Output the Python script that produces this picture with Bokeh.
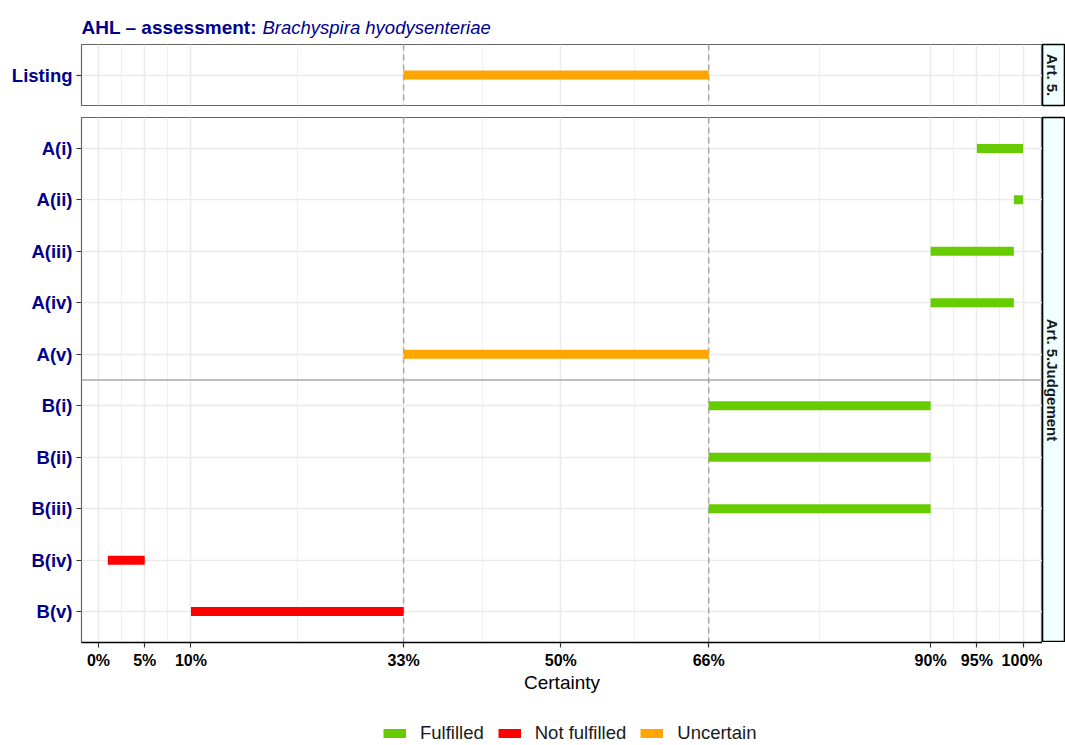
import math
from bokeh.plotting import figure
from bokeh.models import (FactorRange, Range1d, FixedTicker, PrintfTickFormatter, Span,
                          Legend, LegendItem, ColumnDataSource, Grid)
from bokeh.layouts import column, row
from bokeh.embed import file_html
from bokeh.resources import INLINE
from bokeh.core.properties import value

# ---------------- data ----------------
title_bold = "AHL – assessment: "
title_italic = "Brachyspira hyodysenteriae"

listing_criteria = ["Listing"]
listing_lower = [33]
listing_upper = [66]
listing_status = ["Uncertain"]

judgement_criteria = ["A(i)", "A(ii)", "A(iii)", "A(iv)", "A(v)",
                      "B(i)", "B(ii)", "B(iii)", "B(iv)", "B(v)"]
judgement_lower = [95, 99, 90, 90, 33, 66, 66, 66, 1, 10]
judgement_upper = [100, 100, 99, 99, 66, 90, 90, 90, 5, 33]
judgement_status = ["Fulfilled", "Fulfilled", "Fulfilled", "Fulfilled", "Uncertain",
                    "Fulfilled", "Fulfilled", "Fulfilled", "Not fulfilled", "Not fulfilled"]

status_levels = ["Fulfilled", "Not fulfilled", "Uncertain"]
status_colors = ["#66CC00", "#FF0000", "#FFA500"]

x_ticks = [0, 5, 10, 33, 50, 66, 90, 95, 100]
x_minor = [2.5, 7.5, 21.5, 41.5, 58, 78, 92.5, 97.5]
threshold_lines = [33, 66]
group_separator = 5  # between A(v) and B(i)
strip_labels = ["Art. 5.", "Art. 5.Judgement"]
x_label = "Certainty"

# ---------------- layout constants ----------------
FONT = "Liberation Sans"
NAVY = "#00008B"
LEFT = 81
FW = 961
SW = 23
X_START, X_END = -1.84, 102.1
TH = 42          # title strip height
BOT_BORDER = 58  # room for x axis below bottom panel
LH = 745 - TH - (2 + 61 + 2) - (10 + 525 + BOT_BORDER)


def rows_of(crit, lo, up, st, status):
    idx = [i for i in range(len(crit)) if st[i] == status]
    return ColumnDataSource(dict(y=[crit[i] for i in idx],
                                 x0=[lo[i] for i in idx],
                                 x1=[up[i] for i in idx])), len(idx)


def style_panel(p):
    p.background_fill_color = "white"
    p.border_fill_color = "white"
    p.outline_line_color = "#666666"
    p.outline_line_width = 1.2
    p.ygrid.grid_line_color = "#EBEBEB"
    p.ygrid.grid_line_width = 1.6
    ticker = FixedTicker(ticks=x_ticks, minor_ticks=x_minor)
    if len(p.xgrid) == 0:
        p.add_layout(Grid(dimension=0, ticker=ticker))
    else:
        p.xgrid.ticker = ticker
    p.xgrid.grid_line_color = "#EBEBEB"
    p.xgrid.grid_line_width = 1.6
    p.xgrid.minor_grid_line_color = "#F0F0F0"
    p.xgrid.minor_grid_line_width = 1.0
    ya = p.yaxis
    ya.axis_line_color = None
    ya.major_tick_out = 5
    ya.major_tick_in = 0
    ya.major_tick_line_color = "#333333"
    ya.major_tick_line_width = 1.2
    ya.minor_tick_line_color = None
    ya.major_label_standoff = 4
    ya.major_label_text_font = FONT
    ya.major_label_text_font_size = "18.5px"
    ya.major_label_text_font_style = "bold"
    ya.major_label_text_color = NAVY


def make_panel(crit, lo, up, st, frame_h, top, bottom, show_x):
    factors = list(reversed(crit))
    yr = FactorRange(factors=factors, range_padding=0.2 / len(factors))
    p = figure(frame_width=FW, frame_height=frame_h,
               x_range=Range1d(X_START, X_END), y_range=yr,
               x_axis_location="below" if show_x else None,
               min_border_left=LEFT, min_border_right=0,
               min_border_top=top, min_border_bottom=bottom,
               toolbar_location=None, output_backend="svg")
    style_panel(p)
    for t in threshold_lines:
        p.add_layout(Span(location=t, dimension="height", line_color="#A8A8A8",
                          line_width=1.4, line_dash="6 4", level="underlay"))
    for s, c in zip(status_levels, status_colors):
        src, n = rows_of(crit, lo, up, st, s)
        if n == 0:
            continue
        p.segment(x0="x0", y0="y", x1="x1", y1="y", source=src,
                  line_color=c, line_width=9, line_cap="butt")
    if show_x:
        xa = p.xaxis
        xa.ticker = FixedTicker(ticks=x_ticks, minor_ticks=x_minor)
        xa.formatter = PrintfTickFormatter(format="%d%%")
        xa.axis_line_color = "black"
        xa.axis_line_width = 1.3
        xa.major_tick_out = 5
        xa.major_tick_in = 0
        xa.major_tick_line_color = "#333333"
        xa.major_tick_line_width = 1.2
        xa.minor_tick_line_color = None
        xa.major_label_standoff = 4
        xa.major_label_text_font = FONT
        xa.major_label_text_font_size = "16px"
        xa.major_label_text_font_style = "bold"
        xa.major_label_text_color = "black"
        xa.axis_label = x_label
        xa.axis_label_standoff = 0
        xa.axis_label_text_font = FONT
        xa.axis_label_text_font_size = "19px"
        xa.axis_label_text_font_style = "normal"
        xa.axis_label_text_color = "black"
    return p


def make_strip(label, frame_h, top, bottom):
    s = figure(frame_width=SW, frame_height=frame_h,
               x_range=Range1d(0, 1), y_range=Range1d(0, 1),
               x_axis_location=None, y_axis_location=None,
               min_border_left=0, min_border_right=0,
               min_border_top=top, min_border_bottom=bottom,
               toolbar_location=None, output_backend="svg")
    s.grid.visible = False
    s.background_fill_color = "#F0FFFF"
    s.border_fill_color = "white"
    s.outline_line_color = "black"
    s.outline_line_width = 1.6
    s.text(x=[0.45], y=[0.5], text=[label], angle=-math.pi / 2,
           text_align="center", text_baseline="middle",
           text_font=value(FONT), text_font_size="15px",
           text_font_style="bold", text_color="#1A1A1A")
    return s


# ---------------- title (pixel coordinates relative to panel left edge) ----------------
tfig = figure(frame_width=FW, frame_height=TH, x_range=Range1d(0, FW), y_range=Range1d(0, TH),
              x_axis_location=None, y_axis_location=None,
              min_border_left=LEFT, min_border_right=SW, min_border_top=0, min_border_bottom=0,
              toolbar_location=None, output_backend="svg")
tfig.grid.visible = False
tfig.outline_line_color = None
tfig.text(x=[0], y=[TH - 26.7], text=[title_bold], text_baseline="alphabetic",
          text_align="left", text_font=value(FONT), text_font_size="19px",
          text_font_style="bold", text_color=NAVY)
tfig.text(x=[181], y=[TH - 26.7], text=[title_italic], text_baseline="alphabetic",
          text_align="left", text_font=value(FONT), text_font_size="18.5px",
          text_font_style="italic", text_color=NAVY)

# ---------------- panels ----------------
top_p = make_panel(listing_criteria, listing_lower, listing_upper, listing_status,
                   61, 2, 2, False)
top_s = make_strip(strip_labels[0], 61, 2, 2)

bot_p = make_panel(judgement_criteria, judgement_lower, judgement_upper,
                   judgement_status, 525, 10, BOT_BORDER, True)
bot_p.add_layout(Span(location=group_separator, dimension="width", line_color="#AAAAAA",
                      line_width=1.6, level="underlay"))
bot_s = make_strip(strip_labels[1], 525, 10, 0)

# ---------------- legend strip ----------------
lfig = figure(frame_width=FW, frame_height=LH, x_range=Range1d(X_START, X_END),
              y_range=FactorRange(factors=list(reversed(judgement_criteria))),
              x_axis_location=None, y_axis_location=None,
              min_border_left=LEFT, min_border_right=SW, min_border_top=0, min_border_bottom=0,
              toolbar_location=None, output_backend="svg")
lfig.grid.visible = False
lfig.outline_line_color = None
items = []
for s, c in zip(status_levels, status_colors):
    src, n = rows_of(judgement_criteria, judgement_lower, judgement_upper, judgement_status, s)
    key = lfig.segment(x0="x0", y0="y", x1="x1", y1="y", source=src,
                       line_color=c, line_width=9, line_cap="butt", visible=False)
    items.append(LegendItem(label=s, renderers=[key]))
legend = Legend(items=items, location=(302, 1), orientation="horizontal",
                glyph_width=23, glyph_height=20, label_standoff=14, spacing=14,
                padding=0, margin=0, border_line_color=None, background_fill_alpha=0,
                inactive_fill_alpha=0,
                label_text_font=FONT, label_text_font_size="18.5px",
                label_text_color="#1A1A1A")
lfig.add_layout(legend)

layout = column(tfig, row(top_p, top_s), row(bot_p, bot_s), lfig)

with open("out.html", "w") as f:
    f.write(file_html(layout, INLINE))
